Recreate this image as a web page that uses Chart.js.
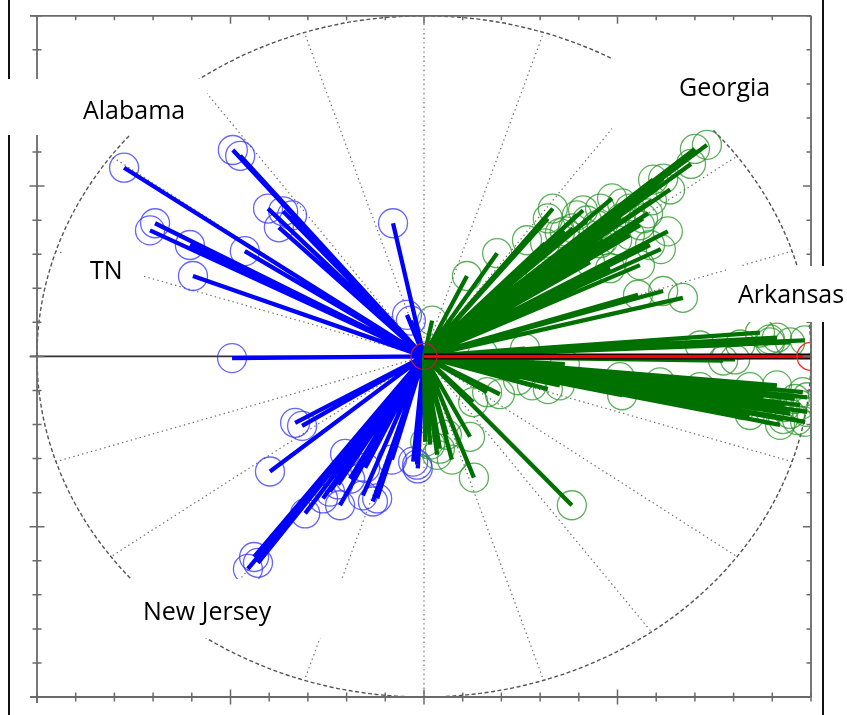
<!DOCTYPE html>
<html>
<head>
<meta charset="utf-8">
<script src="https://cdn.jsdelivr.net/npm/chart.js@4/dist/chart.umd.min.js"></script>
<style>
  html, body { margin: 0; padding: 0; background: #fff; }
  canvas { display: block; }
</style>
</head>
<body>
<canvas id="chart" width="847" height="715"></canvas>
<script>
// Tip positions of each spoke (unit-circle coordinates); every spoke starts at the origin.
const blueX = [-0.775, -0.494, -0.475, -0.695, -0.708, -0.605, -0.463, -0.597, -0.496, -0.403,
               -0.364, -0.341, -0.375, -0.080, -0.044, -0.034, -0.398, -0.333, -0.315, -0.455,
               -0.429, -0.307, -0.217, -0.132, -0.121, -0.158, -0.222, -0.261, -0.191, -0.204,
               -0.152, -0.083, -0.018, -0.028, -0.016, -0.243, -0.439];
const blueY = [ 0.554,  0.606,  0.589,  0.391,  0.370,  0.327,  0.309,  0.236, -0.005,  0.434,
                0.426,  0.414,  0.379,  0.391,  0.122,  0.105, -0.338, -0.195, -0.204, -0.624,
               -0.606, -0.461, -0.437, -0.426, -0.417, -0.408, -0.376, -0.417, -0.359, -0.286,
               -0.327, -0.303, -0.318, -0.309, -0.329, -0.397, -0.589];

const greenX = [0.731, 0.700, 0.592, 0.618, 0.589, 0.579, 0.630, 0.566, 0.584, 0.486,
                0.512, 0.395, 0.411, 0.320, 0.333, 0.266, 0.189, 0.111, 0.499, 0.463,
                0.385, 0.421, 0.532, 0.618, 0.669, 0.553, 0.021, 0.313, 0.364, 0.447,
                0.558, 0.984, 0.894, 0.912, 0.868, 0.804, 0.773, 0.261, 0.152, 0.842,
                0.912, 0.979, 0.972, 0.990, 0.920, 0.842, 0.964, 0.876, 0.824, 0.928,
                0.364, 0.320, 0.512, 0.243, 0.163, 0.127, 0.196, 0.279, 0.351, 0.382,
                0.129, 0.119, 0.072, 0.041, 0.016, 0.059, 0.034, 0.003,
                0.690, 0.636, 0.532, 0.455, 0.351, 0.509, 0.612, 0.455, 0.429, 0.302,
                0.558, 0.481, 0.990, 0.958, 0.932, 0.894, 0.985, 0.946, 0.817, 0.713,
                0.610, 0.506, 0.894, 0.946, 0.817, 0.713];
const greenY = [0.621, 0.609, 0.519, 0.522, 0.458, 0.420, 0.367, 0.405, 0.327, 0.464,
                0.449, 0.414, 0.429, 0.405, 0.434, 0.341, 0.303, 0.236, 0.341, 0.341,
                0.376, 0.399, 0.356, 0.192, 0.172, 0.181, 0.105, 0.332, 0.367, 0.385,
                0.385, 0.047, 0.050, 0.055, 0.070, -0.009, -0.012, 0.023, 0.009, -0.090,
               -0.085, -0.105, -0.143, -0.163, -0.201, -0.172, -0.187, -0.125, -0.143, -0.184,
               -0.023, -0.096, -0.114, -0.070, -0.105, -0.134, -0.111, -0.085, -0.085, -0.437,
               -0.356, -0.236, -0.303, -0.271, -0.259, -0.230, -0.289, -0.251,
                0.565,  0.490,  0.434,  0.434,  0.362,  0.405,  0.315,  0.332,  0.277,  0.242,
                0.268,  0.259, -0.120, -0.125, -0.149, -0.158, -0.192, -0.169, -0.120, -0.090,
               -0.076, -0.061,  0.041,  0.041,  0.035,  0.032];

const redX = [1.0];
const redY = [0.0];

// Guide geometry: radial guides every 18 degrees, axis ticks every 0.1
const spokeAngles = [0, 18, 36, 54, 72, 90, 108, 126, 144, 162,
                     180, 198, 216, 234, 252, 270, 288, 306, 324, 342];
const tickValues = [-1, -0.9, -0.8, -0.7, -0.6, -0.5, -0.4, -0.3, -0.2, -0.1, 0,
                    0.1, 0.2, 0.3, 0.4, 0.5, 0.6, 0.7, 0.8, 0.9, 1];
const majorTicks = [-0.5, 0, 0.5];

const regionNames = ['Alabama', 'TN', 'Georgia', 'Arkansas', 'New Jersey'];

const tips = (xs, ys) => xs.map((v, i) => ({ x: v, y: ys[i] }));
// origin -> tip, then a gap so each spoke is its own segment
const spokes = (xs, ys) => xs.flatMap((v, i) => [{ x: 0, y: 0 }, { x: v, y: ys[i] }, { x: 0, y: null }]);

// Label plates (pixel layout) drawn on top of the plot
const labelLayout = {
  'Alabama':    { box: [0, 79, 207, 56],   text: [83, 119] },
  'TN':         { box: [62, 243, 81, 55],  text: [90, 279] },
  'Georgia':    { box: [612, 54, 178, 75], text: [679, 96] },
  'Arkansas':   { box: [726, 266, 121, 56], text: [738, 303] },
  'New Jersey': { box: [126, 579, 222, 59], text: [143, 620] }
};

const guides = {
  id: 'guides',
  beforeDatasetsDraw(chart) {
    const { ctx, chartArea: a, scales: { x, y } } = chart;
    const cx = x.getPixelForValue(0), cy = y.getPixelForValue(0);
    const rx = x.getPixelForValue(1) - cx, ry = cy - y.getPixelForValue(1);
    ctx.save();
    // dotted radial guides
    ctx.strokeStyle = '#6e6e6e';
    ctx.lineWidth = 1.2;
    ctx.setLineDash([1.4, 3.2]);
    spokeAngles.forEach(deg => {
      if (deg % 180 === 0) return;
      const t = deg * Math.PI / 180;
      ctx.beginPath();
      ctx.moveTo(cx, cy);
      ctx.lineTo(x.getPixelForValue(Math.cos(t)), y.getPixelForValue(Math.sin(t)));
      ctx.stroke();
    });
    // dashed unit circle
    ctx.setLineDash([4, 2.5]);
    ctx.strokeStyle = '#555';
    ctx.lineWidth = 1.4;
    ctx.beginPath();
    ctx.ellipse(cx, cy, rx, ry, 0, 0, 2 * Math.PI);
    ctx.stroke();
    ctx.setLineDash([]);
    // solid horizontal reference
    ctx.strokeStyle = '#333';
    ctx.lineWidth = 1.6;
    ctx.beginPath();
    ctx.moveTo(a.left - 7, cy);
    ctx.lineTo(a.right, cy);
    ctx.stroke();
    ctx.restore();
  },
  afterDatasetsDraw(chart) {
    const { ctx, chartArea: a, scales: { x, y } } = chart;
    ctx.save();
    // axes box
    ctx.strokeStyle = '#6a6a6a';
    ctx.lineWidth = 1.8;
    ctx.beginPath();
    ctx.moveTo(a.left - 7, a.top); ctx.lineTo(a.right, a.top);
    ctx.moveTo(a.left - 7, a.bottom); ctx.lineTo(a.right, a.bottom);
    ctx.moveTo(a.left, a.top); ctx.lineTo(a.left, a.bottom + 6);
    ctx.moveTo(a.right, a.top); ctx.lineTo(a.right, a.bottom);
    ctx.stroke();
    ctx.lineWidth = 1.5;
    ctx.beginPath();
    tickValues.forEach(v => {
      const major = majorTicks.includes(v);
      const px = x.getPixelForValue(v), py = y.getPixelForValue(v);
      const out = major ? 7.5 : 4.5;
      const inn = major ? 8 : 4.5;
      ctx.moveTo(px, a.bottom - out); ctx.lineTo(px, a.bottom + out);
      ctx.moveTo(px, a.top); ctx.lineTo(px, a.top + inn);
      ctx.moveTo(a.left - out, py); ctx.lineTo(a.left + out, py);
      ctx.moveTo(a.right - inn, py); ctx.lineTo(a.right, py);
    });
    ctx.stroke();
    // outer rules
    ctx.strokeStyle = '#111';
    ctx.lineWidth = 2;
    ctx.beginPath();
    ctx.moveTo(9, 0); ctx.lineTo(9, chart.height);
    ctx.moveTo(823, 0); ctx.lineTo(823, chart.height);
    ctx.stroke();
    ctx.restore();
  },
  afterDraw(chart) {
    const { ctx } = chart;
    ctx.save();
    ctx.font = '25px "Open Sans", sans-serif';
    ctx.textAlign = 'left';
    ctx.textBaseline = 'alphabetic';
    regionNames.forEach(name => {
      const L = labelLayout[name];
      ctx.fillStyle = '#fff';
      ctx.fillRect(L.box[0], L.box[1], L.box[2], L.box[3]);
      ctx.fillStyle = '#000';
      ctx.fillText(name, L.text[0], L.text[1]);
    });
    ctx.restore();
  }
};

const ringStyle = (color, r) => ({
  showLine: false, pointRadius: r, pointStyle: 'circle',
  pointBackgroundColor: 'rgba(0,0,0,0)', pointBorderColor: color, pointBorderWidth: 1.3, clip: 0
});
const rayStyle = (color, w) => ({
  showLine: true, spanGaps: false, pointRadius: 0, borderColor: color, borderWidth: w,
  borderCapStyle: 'butt', borderJoinStyle: 'miter', clip: 0
});

new Chart(document.getElementById('chart'), {
  type: 'scatter',
  data: {
    datasets: [
      Object.assign({ label: 'hub', data: [{ x: 0, y: 0 }], order: 0 }, ringStyle('rgb(185,30,55)', 13)),
      Object.assign({ label: 'Arkansas ring', data: tips(redX, redY), order: 1 }, ringStyle('rgb(255,40,40)', 14)),
      Object.assign({ label: 'Arkansas', data: spokes(redX, redY), order: 2 }, rayStyle('#ff0000', 3)),
      Object.assign({ label: 'Arkansas edge', data: spokes(redX, redY), order: 3 }, rayStyle('#200000', 6)),
      Object.assign({ label: 'group B', data: spokes(greenX, greenY), order: 4 }, rayStyle('rgb(0,112,0)', 4.3)),
      Object.assign({ label: 'group A', data: spokes(blueX, blueY), order: 5 }, rayStyle('#0000ff', 4.3)),
      Object.assign({ label: 'group B rings', data: tips(greenX, greenY), order: 6 }, ringStyle('rgba(40,150,40,0.75)', 14.5)),
      Object.assign({ label: 'group A rings', data: tips(blueX, blueY), order: 7 }, ringStyle('rgba(50,50,255,0.75)', 14.5))
    ]
  },
  options: {
    responsive: false,
    animation: false,
    events: [],
    layout: { padding: { left: 37, right: 36, top: 12, bottom: 18 } },
    scales: {
      x: { type: 'linear', min: -1, max: 1, display: false },
      y: { type: 'linear', min: -1, max: 1, display: false }
    },
    plugins: { legend: { display: false }, tooltip: { enabled: false } }
  },
  plugins: [guides]
});
</script>
</body>
</html>
